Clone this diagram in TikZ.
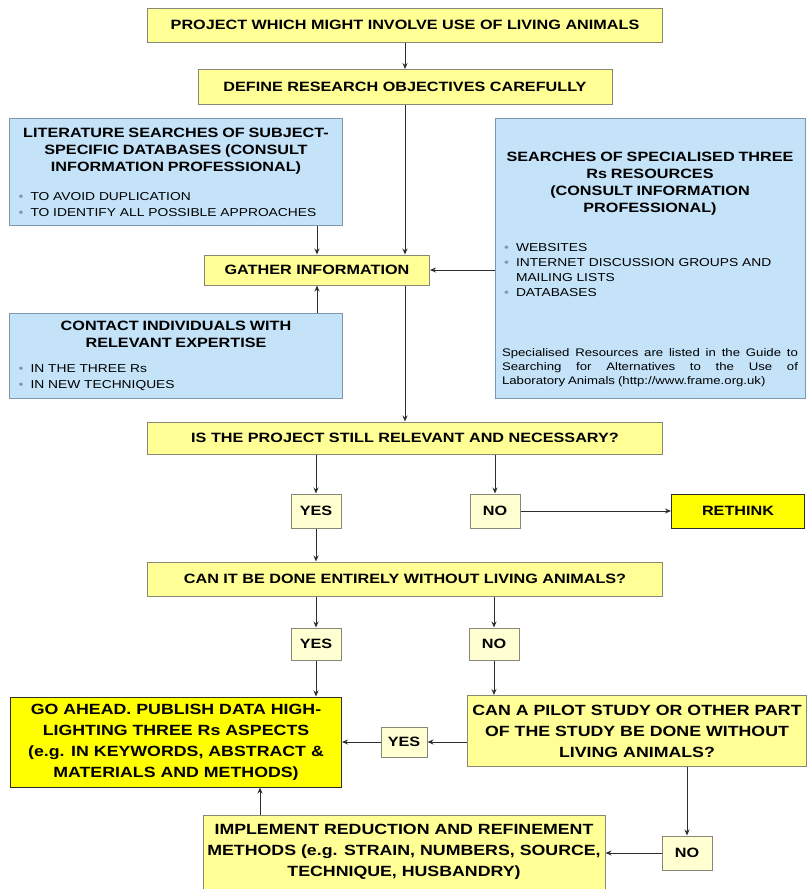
\documentclass[tikz,border=0pt]{standalone}
\usepackage{fontspec}
\setmainfont[FakeStretch=1.2]{Liberation Sans}
\usetikzlibrary{arrows.meta,positioning}
\definecolor{paleyel}{RGB}{255,255,150}
\definecolor{hotyel}{RGB}{255,255,0}
\definecolor{ansyel}{RGB}{255,255,210}
\definecolor{skyblu}{RGB}{196,226,248}
\definecolor{bluedge}{RGB}{125,150,175}
\definecolor{greyedge}{RGB}{135,135,120}
\definecolor{ink}{RGB}{45,45,45}
\newcommand{\hd}{\bfseries\fontsize{13.5}{17}\selectfont}
\newcommand{\bg}{\bfseries\fontsize{14.8}{21}\selectfont}
\newcommand{\blt}{\leavevmode\llap{{\color{bluedge}\textbullet}\hspace{7pt}}}
\newcommand{\fullline}[1]{\makebox[296pt][s]{#1}}
\tikzset{
  q/.style={draw=greyedge,fill=paleyel,line width=1pt,font=\hd,align=center,inner sep=2pt},
  ans/.style={draw=greyedge,fill=ansyel,line width=1pt,font=\hd,minimum width=50pt,minimum height=34pt,inner sep=1pt},
  res/.style={draw=ink,fill=hotyel,line width=1pt,font=\hd,align=center,inner sep=2pt},
  info/.style={draw=bluedge,fill=skyblu,line width=1pt,font=\fontsize{11.5}{16}\selectfont,inner xsep=7pt,inner ysep=4pt},
  arr/.style={-{Stealth[length=6pt,width=5pt]},draw=ink,line width=1pt}
}
\begin{document}
\begin{tikzpicture}[x=1pt,y=-1pt]
\useasboundingbox (0,0) rectangle (807,889);
\node[q,minimum width=515pt,minimum height=34pt] (proj) at (405,25) {PROJECT WHICH MIGHT INVOLVE USE OF LIVING ANIMALS};
\node[q,minimum width=414pt,minimum height=35pt] (defn) at (405,87) {DEFINE RESEARCH OBJECTIVES CAREFULLY};
\node[info,minimum width=333pt,minimum height=107pt,text width=319pt] (lit) at (176,172) {%
  {\hd\centering LITERATURE SEARCHES OF SUBJECT-\\SPECIFIC DATABASES (CONSULT\\INFORMATION PROFESSIONAL)\par}
  \vspace{13pt}
  {\raggedright\leftskip=14pt
  \blt TO AVOID DUPLICATION\par
  \blt TO IDENTIFY ALL POSSIBLE APPROACHES\par}};
\node[info,minimum width=310pt,minimum height=280pt,text width=296pt] (srch) at (650,258) {%
  {\hd\centering\rule{0pt}{32pt}SEARCHES OF SPECIALISED THREE\\Rs RESOURCES\\(CONSULT INFORMATION\\PROFESSIONAL)\par}
  \vspace{24pt}
  {\raggedright\leftskip=14pt\baselineskip=15pt
  \blt WEBSITES\par
  \blt INTERNET DISCUSSION GROUPS AND\\MAILING LISTS\par
  \blt DATABASES\par}
  \vspace{46pt}
  {\raggedright\fontsize{11}{14}\selectfont\spaceskip=3pt plus 20pt minus 1pt
  \fullline{Specialised Resources are listed in the Guide to}\\
  \fullline{Searching for Alternatives to the Use of}\\
  Laboratory Animals (http://www.frame.org.uk)\par}};
\node[q,minimum width=225pt,minimum height=30pt] (gath) at (317,270) {GATHER INFORMATION};
\node[info,minimum width=333pt,minimum height=85pt,text width=319pt] (cont) at (176,356) {%
  {\hd\centering CONTACT INDIVIDUALS WITH\\RELEVANT EXPERTISE\par}
  \vspace{9pt}
  {\raggedright\leftskip=14pt
  \blt IN THE THREE Rs\par
  \blt IN NEW TECHNIQUES\par}};
\node[q,minimum width=515pt,minimum height=32pt] (rel) at (405,438) {IS THE PROJECT STILL RELEVANT AND NECESSARY?};
\node[ans] (yes1) at (316,511) {YES};
\node[ans] (no1) at (495,511) {NO};
\node[res,minimum width=133pt,minimum height=34pt] (think) at (738,511) {RETHINK};
\node[q,minimum width=515pt,minimum height=34pt] (free) at (405,579) {CAN IT BE DONE ENTIRELY WITHOUT LIVING ANIMALS?};
\node[ans,minimum height=32pt] (yes2) at (316,644) {YES};
\node[ans,minimum height=32pt] (no2) at (494,644) {NO};
\node[res,font=\bg,minimum width=331pt,minimum height=90pt] (ahead) at (176,742) {GO AHEAD. PUBLISH DATA HIGH-\\LIGHTING THREE Rs ASPECTS\\(e.g. IN KEYWORDS, ABSTRACT \&\\MATERIALS AND METHODS)};
\node[ans,minimum width=46pt,minimum height=30pt] (yes3) at (404,742) {YES};
\node[q,font=\bg,minimum width=339pt,minimum height=71pt] (pilot) at (637,731) {CAN A PILOT STUDY OR OTHER PART\\OF THE STUDY BE DONE WITHOUT\\LIVING ANIMALS?};
\node[q,font=\bg,minimum width=402pt,minimum height=74pt] (impl) at (404,852) {IMPLEMENT REDUCTION AND REFINEMENT\\METHODS (e.g. STRAIN, NUMBERS, SOURCE,\\TECHNIQUE, HUSBANDRY)};
\node[ans,minimum height=34pt] (no3) at (687,853) {NO};
% top part
\draw[arr] (proj.south) -- (proj.south |- defn.north);
\draw[arr] (defn.south) -- (defn.south |- gath.north);
\draw[arr] (gath.north |- lit.south) -- (gath.north);
\draw[arr] (gath.south |- cont.north) -- (gath.south);
\draw[arr] (srch.west |- gath.east) -- (gath.east);
\draw[arr] (defn.south |- gath.south) -- (defn.south |- rel.north);
% decisions
\draw[arr] (yes1.north |- rel.south) -- (yes1.north);
\draw[arr] (no1.north |- rel.south) -- (no1.north);
\draw[arr] (no1) -- (think);
\draw[arr] (yes1) -- (yes1 |- free.north);
\draw[arr] (yes2.north |- free.south) -- (yes2.north);
\draw[arr] (no2.north |- free.south) -- (no2.north);
\draw[arr] (yes2) -- (yes2 |- ahead.north);
\draw[arr] (no2) -- (no2 |- pilot.north);
\draw[arr] (pilot.west |- yes3) -- (yes3);
\draw[arr] (yes3) -- (ahead);
\draw[arr] (no3.north |- pilot.south) -- (no3);
\draw[arr] (no3) -- (no3 -| impl.east);
\draw[arr] ([xshift=-144pt]impl.north) -- ([xshift=-144pt]impl.north |- ahead.south);
\end{tikzpicture}
\end{document}
